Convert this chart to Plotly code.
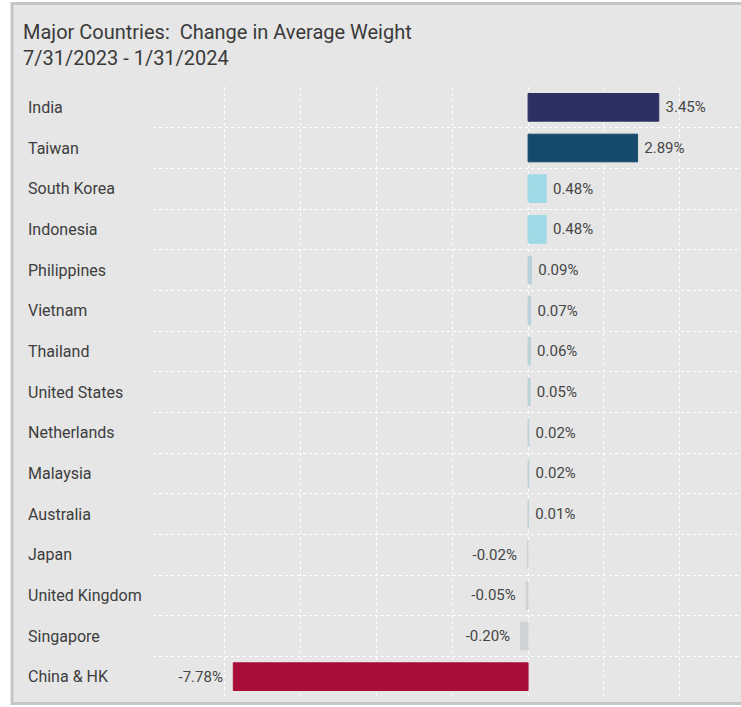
import plotly.graph_objects as go

countries = ["India", "Taiwan", "South Korea", "Indonesia", "Philippines", "Vietnam",
             "Thailand", "United States", "Netherlands", "Malaysia", "Australia",
             "Japan", "United Kingdom", "Singapore", "China & HK"]
changes = [3.45, 2.89, 0.48, 0.48, 0.09, 0.07, 0.06, 0.05, 0.02, 0.02, 0.01,
           -0.02, -0.05, -0.20, -7.78]
bar_colors = ["#2b3160", "#164a6c", "#9fd9e6", "#9fd9e6", "#b9d2da", "#b9d2da",
              "#b9d2da", "#b9d2da", "#b9d2da", "#b9d2da", "#b9d2da",
              "#cdd2d6", "#cdd2d6", "#cdd2d6", "#a80d3a"]
title_lines = ["Major Countries:  Change in Average Weight", "7/31/2023 - 1/31/2024"]

W, H = 741, 707
L, R, T, B = 153, 0, 87, 10
pw, ph = W - L - R, H - T - B

def px(x):
    return (x - L) / pw

def py(y):
    return (H - B - y) / ph

idx = list(range(len(countries)))
FONT = "Roboto"
NB = "\u00a0"

labels = [(NB + f"{v:.2f}%") if v >= 0 else (f"{v:.2f}%" + NB + NB) for v in changes]

fig = go.Figure()
fig.add_trace(go.Bar(
    x=changes, y=idx, orientation="h",
    marker=dict(color=bar_colors, line=dict(color=bar_colors, width=1)),
    width=0.68,
    text=labels,
    textposition="outside",
    textfont=dict(family=FONT, size=15, color="#454545"),
    cliponaxis=False,
    hoverinfo="skip",
))

annotations = []
for i, c in zip(idx, countries):
    annotations.append(dict(x=px(26), y=i, xref="paper", yref="y", text=c,
                            showarrow=False, xanchor="left", yanchor="middle",
                            font=dict(family=FONT, size=16, color="#3d3d3d")))
for k, line in enumerate(title_lines):
    annotations.append(dict(x=px(21), y=py(32 + 26 * k), xref="paper", yref="paper",
                            text=line, showarrow=False, xanchor="left", yanchor="middle",
                            font=dict(family=FONT, size=20, color="#3a3a3a")))

fig.update_layout(
    width=W, height=H,
    margin=dict(l=L, r=R, t=T, b=B, pad=0),
    paper_bgcolor="white",
    plot_bgcolor="rgba(0,0,0,0)",
    showlegend=False,
    annotations=annotations,
    shapes=[dict(type="rect", xref="paper", yref="paper",
                 x0=px(12), x1=px(760), y0=py(703.5), y1=py(3.5),
                 line=dict(color="#c6c6c6", width=3), fillcolor="#e6e6e6",
                 layer="below")],
    xaxis=dict(range=[-9.9, 5.62], dtick=2, tick0=0, showgrid=True,
               gridcolor="white", griddash="dot", gridwidth=1,
               zeroline=False, showticklabels=False, ticks="", showline=False),
    yaxis=dict(range=[14.5, -0.5], tickvals=idx, showticklabels=False,
               showgrid=False, zeroline=False, ticks="", showline=False,
               minor=dict(tickvals=[i + 0.5 for i in idx[:-1]], showgrid=True,
                          gridcolor="white", griddash="dot", gridwidth=1,
                          ticks="")),
)

fig.write_html("out.html",
               config={"displayModeBar": False},
               post_script="document.body.style.margin='0';document.body.style.padding='0';")
